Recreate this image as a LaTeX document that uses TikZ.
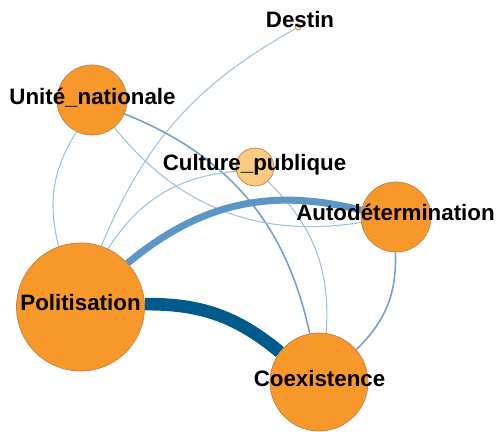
\documentclass[tikz,border=0pt]{standalone}
\usepackage{fontspec}
\setmainfont{Liberation Sans}
\usetikzlibrary{backgrounds}
\definecolor{themeorange}{RGB}{248,152,42}
\definecolor{themelight}{RGB}{250,202,128}
\definecolor{themepale}{RGB}{236,236,196}
\definecolor{rimbrown}{RGB}{185,130,75}
\definecolor{thinblue}{RGB}{160,192,218}
\definecolor{midblue}{RGB}{118,160,200}
\definecolor{wideblue}{RGB}{92,150,198}
\definecolor{darkblue}{RGB}{0,90,140}

\begin{document}
\begin{tikzpicture}[every node/.style={font=\bfseries\fontsize{12.7}{15}\selectfont},
  theme/.style={circle, draw=rimbrown, line width=0.4pt, fill=themeorange, inner sep=0pt, minimum size=#1},
  thinlink/.style={draw=thinblue, line width=0.6pt},
  midlink/.style={draw=midblue, line width=0.9pt},
  widelink/.style={draw=wideblue, line width=4pt},
  heavylink/.style={draw=darkblue, line width=7.2pt}]
\useasboundingbox (0,0) rectangle (9.96,8.64);
% themes
\node[theme=0.12cm, fill=themepale] (D) at (5.96,8.10) {};
\node[theme=1.40cm] (U) at (1.84,6.64) {};
\node[theme=0.76cm, fill=themelight] (C) at (5.10,5.30) {};
\node[theme=1.40cm] (A) at (7.92,4.30) {};
\node[theme=2.56cm] (P) at (1.61,2.50) {};
\node[theme=1.96cm] (X) at (6.38,1.00) {};
% links
\begin{scope}[on background layer]
\draw[thinlink] (D) to[bend right=19] (P);
\draw[thinlink] (U) to[bend right=23] (P);
\draw[midlink] (U) to[bend left=28] (X);
\draw[thinlink] (U) to[bend right=30] (A);
\draw[thinlink] (C) to[bend right=26] (P);
\draw[thinlink] (C) to[bend left=25] (X);
\draw[midlink] (A) to[bend left=24] (X);
\draw[widelink] (P) to[bend left=27] (A);
\draw[heavylink] (P) to[bend left=20] (X);
\end{scope}
% labels
\node[anchor=base] (Dl) at (6.00,8.08) {Destin};
\node[anchor=base] (Ul) at (1.85,6.54) {Unité\_nationale};
\node[anchor=base] (Cl) at (5.09,5.22) {Culture\_publique};
\node[anchor=base] (Al) at (7.91,4.22) {Autodétermination};
\node[anchor=base] (Pl) at (1.61,2.42) {Politisation};
\node[anchor=base] (Xl) at (6.39,0.90) {Coexistence};
\end{tikzpicture}
\end{document}
